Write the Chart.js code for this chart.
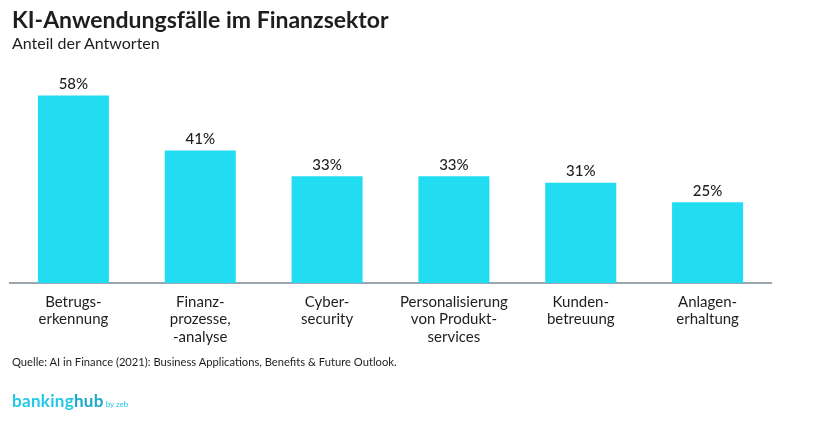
<!DOCTYPE html>
<html>
<head>
<meta charset="utf-8">
<script src="https://cdn.jsdelivr.net/npm/chart.js@4.4.1/dist/chart.umd.min.js"></script>
<style>
  html, body { margin: 0; padding: 0; background: #fff; }
  #wrap { position: relative; width: 825px; height: 424px; font-family: Lato, 'Open Sans', sans-serif; color: #1e1e1e; }
  #chart { position: absolute; left: 0; top: 0; }
  .title { position: absolute; left: 12px; top: 5px; font-size: 23px; font-weight: 700; }
  .subtitle { position: absolute; left: 12px; top: 33px; font-size: 16px; }
  .source { position: absolute; left: 12px; top: 355px; font-size: 11.2px; }
  .logo { position: absolute; left: 12px; top: 390px; font-size: 17px; font-weight: 700; color: #22c8e6; letter-spacing: 0.3px; }
  .logo small { font-size: 8px; font-weight: 400; letter-spacing: 0; }
</style>
</head>
<body>
<div id="wrap">
  <canvas id="chart" width="825" height="424"></canvas>
  <div class="title">KI-Anwendungsfälle im Finanzsektor</div>
  <div class="subtitle">Anteil der Antworten</div>
  <div class="source">Quelle: AI in Finance (2021): Business Applications, Benefits &amp; Future Outlook.</div>
  <div class="logo">banking<span style="color:#1aa9c8">hub</span><small> by zeb</small></div>
</div>
<script>
// Daten aus der Grafik
const categories = [
    ['Betrugs-', 'erkennung'],
    ['Finanz-', 'prozesse,', '-analyse'],
    ['Cyber-', 'security'],
    ['Personalisierung', 'von Produkt-', 'services'],
    ['Kunden-', 'betreuung'],
    ['Anlagen-', 'erhaltung']
];
const shares = [58, 41, 33, 33, 31, 25];

// Werte über den Balken zeichnen
const valueLabels = {
    id: 'valueLabels',
    afterDatasetsDraw(chart) {
        const ctx = chart.ctx;
        const meta = chart.getDatasetMeta(0);
        ctx.save();
        ctx.font = '500 15px Lato, sans-serif';
        ctx.fillStyle = '#1e1e1e';
        ctx.textAlign = 'center';
        ctx.textBaseline = 'bottom';
        meta.data.forEach((bar, i) => {
            ctx.fillText(shares[i] + '%', bar.x, bar.y - 4);
        });
        ctx.restore();
    }
};

new Chart(document.getElementById('chart'), {
    type: 'bar',
    data: {
        labels: categories,
        datasets: [{
            data: shares,
            backgroundColor: '#22dcf2',
            borderWidth: 0,
            barPercentage: 0.56,
            categoryPercentage: 1
        }]
    },
    options: {
        responsive: false,
        animation: false,
        layout: {
            padding: { left: 10, right: 54, top: 73, bottom: 76 }
        },
        plugins: {
            legend: { display: false },
            tooltip: { enabled: false }
        },
        scales: {
            x: {
                grid: { display: false },
                border: { color: '#9aa5ae', width: 2 },
                ticks: {
                    color: '#1e1e1e',
                    padding: 2,
                    font: { family: 'Lato, sans-serif', size: 15, lineHeight: 1.18 }
                }
            },
            y: {
                display: false,
                min: 0,
                max: 65
            }
        }
    },
    plugins: [valueLabels]
});
</script>
</body>
</html>
